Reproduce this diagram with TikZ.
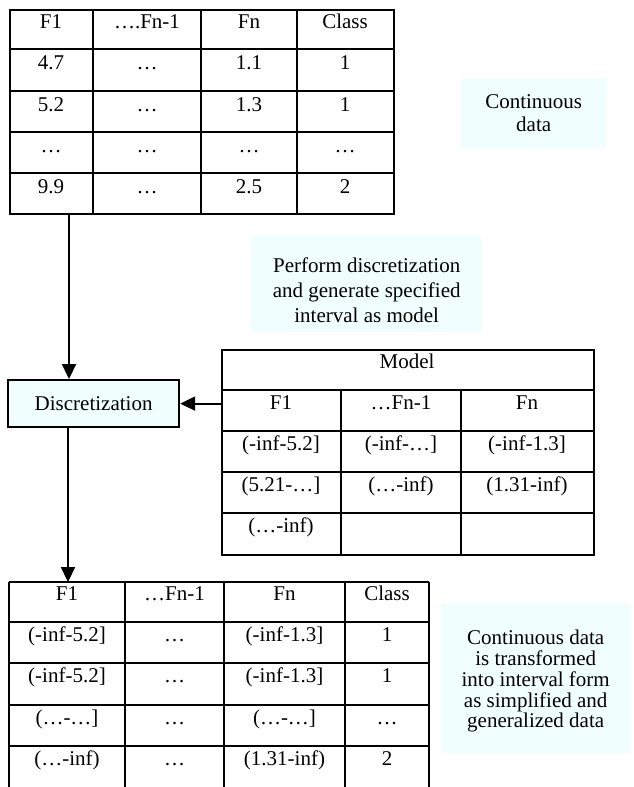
\documentclass[tikz,border=0pt]{standalone}
\usepackage{fontspec}
\setmainfont{Liberation Serif}
\usetikzlibrary{arrows.meta,calc}
\definecolor{boxfill}{RGB}{240,254,254}
\begin{document}
\begin{tikzpicture}[x=1pt,y=-1pt,
  grid/.style={line width=2.2pt},
  cell/.style={anchor=base, inner sep=0pt, font=\fontsize{21}{25}\selectfont},
  frame/.style={inner sep=0pt, anchor=north west},
  note/.style={fill=boxfill, inner sep=0pt, anchor=north west},
  notetext/.style={align=center, inner sep=0pt},
  arr/.style={line width=2.2pt, -{Triangle[length=15pt,width=14pt]}}
]
\useasboundingbox (0,0) rectangle (633,787);

% ---------- notes (background boxes) ----------
\node[note, minimum width=145, minimum height=70] (cbox) at (461,78) {};
\node[notetext, font=\fontsize{21}{23.5}\selectfont] (ctext) at (cbox.center) {Continuous\\data};

\node[note, minimum width=231, minimum height=96] (pbox) at (251,236) {};
\node[notetext, font=\fontsize{21}{25}\selectfont] (ptext) at ([yshift=-6pt]pbox.center) {Perform discretization\\and generate specified\\interval as model};

\node[note, minimum width=189, minimum height=150] (fbox) at (441,603) {};
\node[notetext, font=\fontsize{21}{20.8}\selectfont] (ftext) at ([yshift=-3pt]fbox.center) {Continuous data\\is transformed\\into interval form\\as simplified and\\generalized data};

% ---------- top table ----------
\node[frame, draw, grid, minimum width=384, minimum height=204] (top) at (9,9) {};
\foreach \x in {93,201,297} \draw[grid] (\x,9) -- (\x,213);
\foreach \y in {49,91,132,173} \draw[grid] (9,\y) -- (393,\y);
\foreach \x/\t [count=\i] in {51/F1,147/{….Fn-1},249/Fn,345/Class}
  \node[cell] (ta\i) at (\x,28) {\t};
\foreach \x/\t [count=\i] in {51/4.7,147/…,249/1.1,345/1}
  \node[cell] (tb\i) at (\x,69) {\t};
\foreach \x/\t [count=\i] in {51/5.2,147/…,249/1.3,345/1}
  \node[cell] (tc\i) at (\x,111) {\t};
\foreach \x/\t [count=\i] in {51/…,147/…,249/…,345/…}
  \node[cell] (td\i) at (\x,152) {\t};
\foreach \x/\t [count=\i] in {51/9.9,147/…,249/2.5,345/2}
  \node[cell] (te\i) at (\x,193) {\t};

% ---------- discretization ----------
\node[frame, draw, grid, fill=boxfill, minimum width=171, minimum height=47,
      font=\fontsize{21}{25}\selectfont] (disc) at (7,379) {Discretization};

% ---------- model table ----------
\node[frame, draw, grid, minimum width=372, minimum height=205] (model) at (221,349) {};
\foreach \x in {341,461} \draw[grid] (\x,390) -- (\x,554);
\foreach \y in {390,431,472,513} \draw[grid] (221,\y) -- (593,\y);
\node[cell] (mhead) at (407,368) {Model};
\foreach \x/\t [count=\i] in {281/F1,401/{…Fn-1},527/Fn}
  \node[cell] (ma\i) at (\x,409) {\t};
\foreach \x/\t [count=\i] in {281/{(-inf-5.2]},401/{(-inf-…]},527/{(-inf-1.3]}}
  \node[cell] (mb\i) at (\x,450) {\t};
\foreach \x/\t [count=\i] in {281/{(5.21-…]},401/{(…-inf)},527/{(1.31-inf)}}
  \node[cell] (mc\i) at (\x,491) {\t};
\node[cell] (md1) at (281,532) {(…-inf)};

% ---------- bottom table ----------
\node[frame, minimum width=420, minimum height=205] (bot) at (9,582) {};
\draw[grid] (9,582) -- (429,582);
\foreach \x in {9,125,224,345,429} \draw[grid] (\x,582) -- (\x,787);
\foreach \y in {622,663,705,746} \draw[grid] (9,\y) -- (429,\y);
\foreach \x/\t [count=\i] in {67/F1,174.5/{…Fn-1},284.5/Fn,387/Class}
  \node[cell] (ba\i) at (\x,600) {\t};
\foreach \x/\t [count=\i] in {67/{(-inf-5.2]},174.5/…,284.5/{(-inf-1.3]},387/1}
  \node[cell] (bb\i) at (\x,641) {\t};
\foreach \x/\t [count=\i] in {67/{(-inf-5.2]},174.5/…,284.5/{(-inf-1.3]},387/1}
  \node[cell] (bc\i) at (\x,682) {\t};
\foreach \x/\t [count=\i] in {67/{(…-…]},174.5/…,284.5/{(…-…]},387/…}
  \node[cell] (bd\i) at (\x,724) {\t};
\foreach \x/\t [count=\i] in {67/{(…-inf)},174.5/…,284.5/{(1.31-inf)},387/2}
  \node[cell] (be\i) at (\x,765) {\t};

% ---------- connectors ----------
\draw[arr] ([xshift=60pt]top.south west) -- ([xshift=62pt]disc.north west);
\draw[arr] (disc.east -| model.west) -- (disc.east);
\draw[arr] ([xshift=61pt]disc.south west) -- ([xshift=59pt]bot.north west);
\end{tikzpicture}
\end{document}
